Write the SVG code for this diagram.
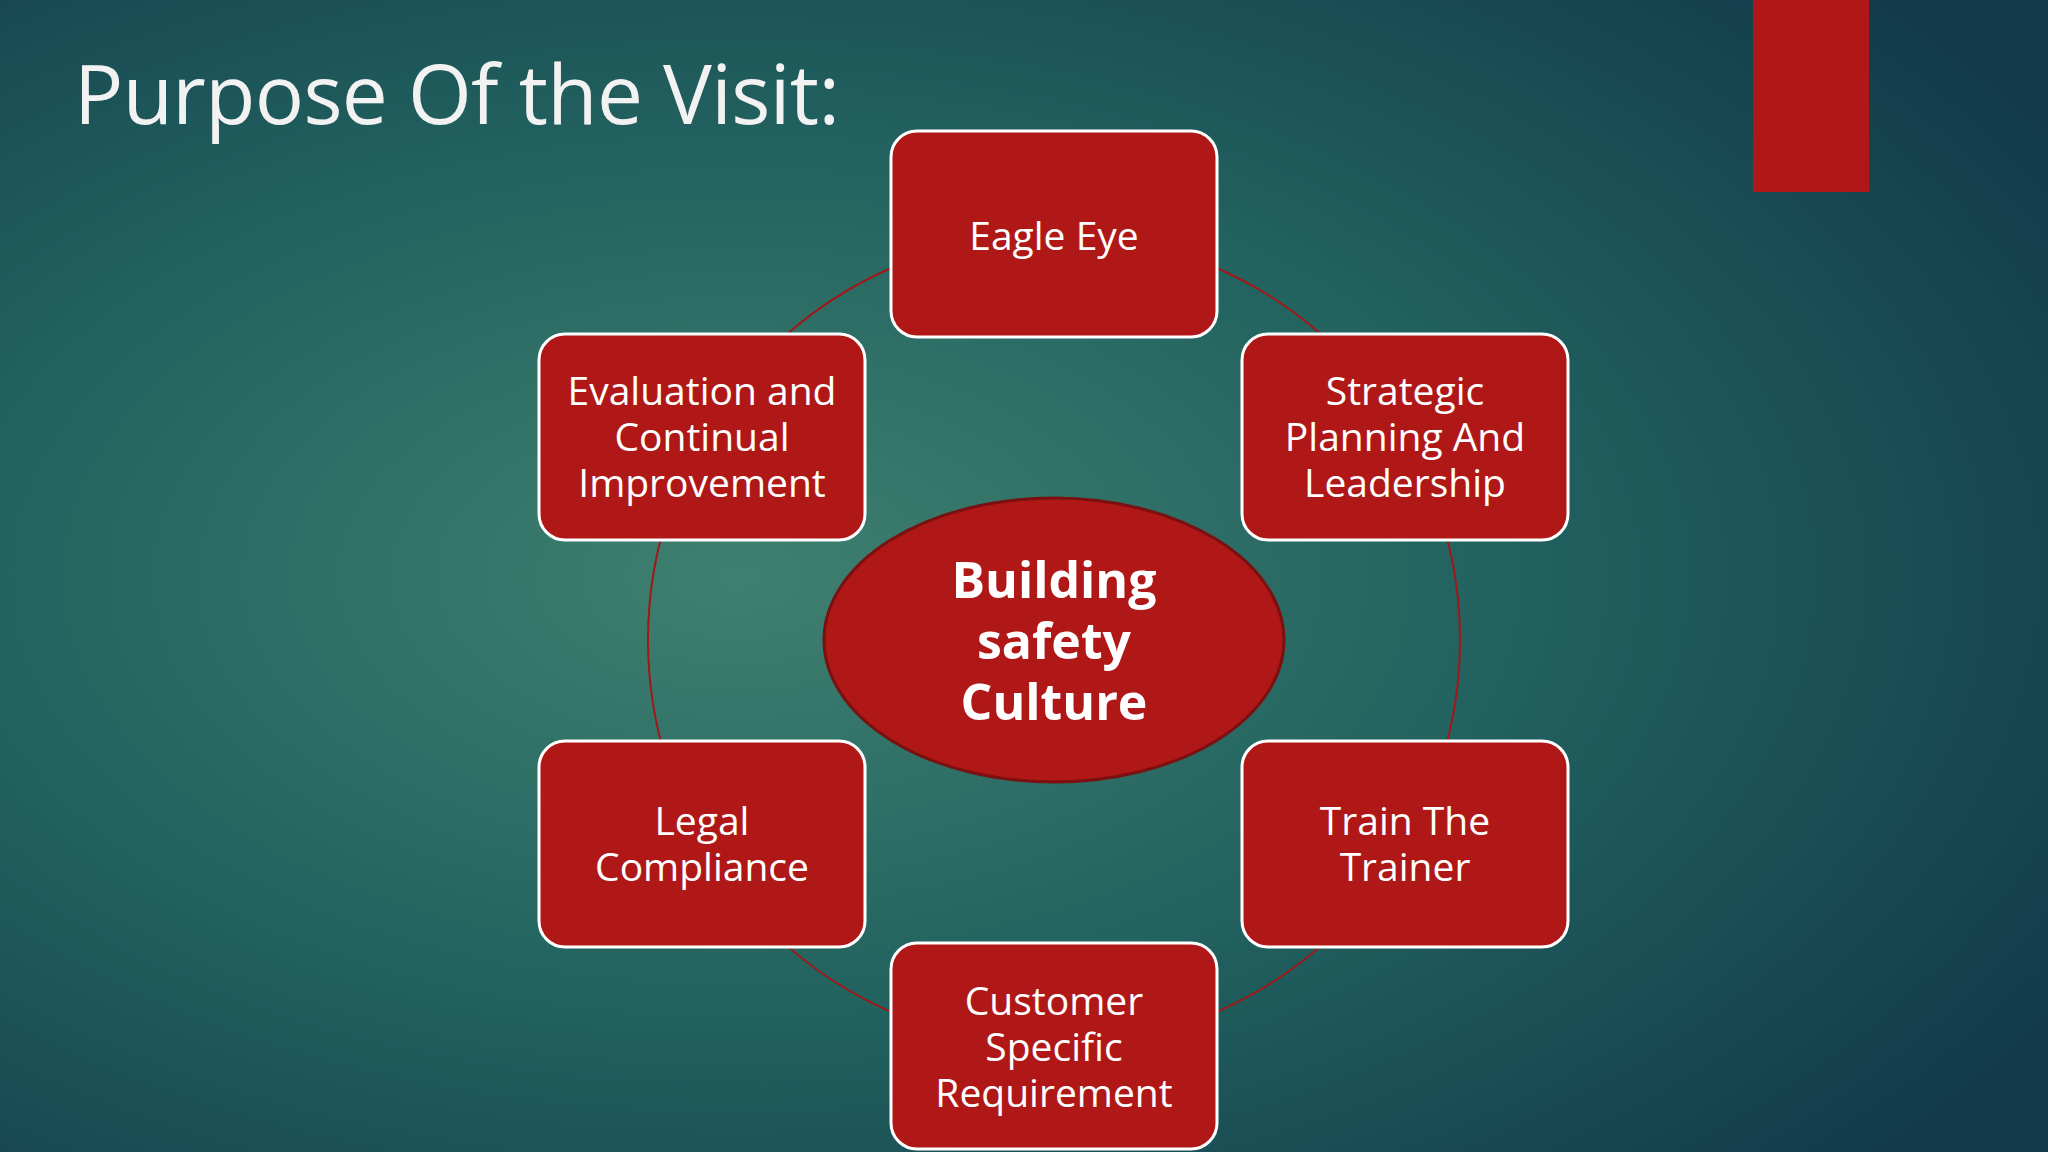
<svg xmlns="http://www.w3.org/2000/svg" width="2048" height="1152" viewBox="0 0 2048 1152">
<defs>
<radialGradient id="bg" cx="0.36" cy="0.5" r="0.75">
<stop offset="0" stop-color="#3f8070"/>
<stop offset="0.5" stop-color="#22625f"/>
<stop offset="1" stop-color="#123a4b"/>
</radialGradient>
<style>
.box{fill:#b01817;stroke:#ffffff;stroke-width:3}
.t{font-family:"Open Sans","Noto Sans",sans-serif;font-size:39px;fill:#ffffff;text-anchor:middle;dominant-baseline:central}
.c{font-family:"Open Sans","Noto Sans",sans-serif;font-size:50px;font-weight:bold;fill:#ffffff;text-anchor:middle;dominant-baseline:central}
</style>
</defs>
<rect width="2048" height="1152" fill="url(#bg)"/>
<rect x="1753" y="0" width="116" height="192" fill="#b01817"/>
<text x="74" y="124" font-family="'Open Sans','Noto Sans',sans-serif" font-size="82" fill="#f2f2f2" textLength="766">Purpose Of the Visit:</text>
<g id="connectors">
<circle cx="1054" cy="640" r="406" fill="none" stroke="#a01818" stroke-width="2"/>
</g>
<g id="center">
<ellipse cx="1054" cy="640" rx="230" ry="142" fill="#b01817" stroke="#7a1010" stroke-width="3"/>
<text class="c" x="1054" y="579">Building</text>
<text class="c" x="1054" y="640">safety</text>
<text class="c" x="1054" y="701">Culture</text>
</g>
<g id="eagle"><rect class="box" x="891" y="131" width="326" height="206" rx="26"/><text class="t" x="1054" y="234">Eagle Eye</text></g>
<g id="evaluation"><rect class="box" x="539" y="334" width="326" height="206" rx="26"/><text class="t" x="702" y="389">Evaluation and</text><text class="t" x="702" y="435">Continual</text><text class="t" x="702" y="481">Improvement</text></g>
<g id="strategic"><rect class="box" x="1242" y="334" width="326" height="206" rx="26"/><text class="t" x="1405" y="389">Strategic</text><text class="t" x="1405" y="435">Planning And</text><text class="t" x="1405" y="481">Leadership</text></g>
<g id="legal"><rect class="box" x="539" y="741" width="326" height="206" rx="26"/><text class="t" x="702" y="819">Legal</text><text class="t" x="702" y="865">Compliance</text></g>
<g id="train"><rect class="box" x="1242" y="741" width="326" height="206" rx="26"/><text class="t" x="1405" y="819">Train The</text><text class="t" x="1405" y="865">Trainer</text></g>
<g id="customer"><rect class="box" x="891" y="943" width="326" height="206" rx="26"/><text class="t" x="1054" y="999">Customer</text><text class="t" x="1054" y="1045">Specific</text><text class="t" x="1054" y="1091">Requirement</text></g>
</svg>
